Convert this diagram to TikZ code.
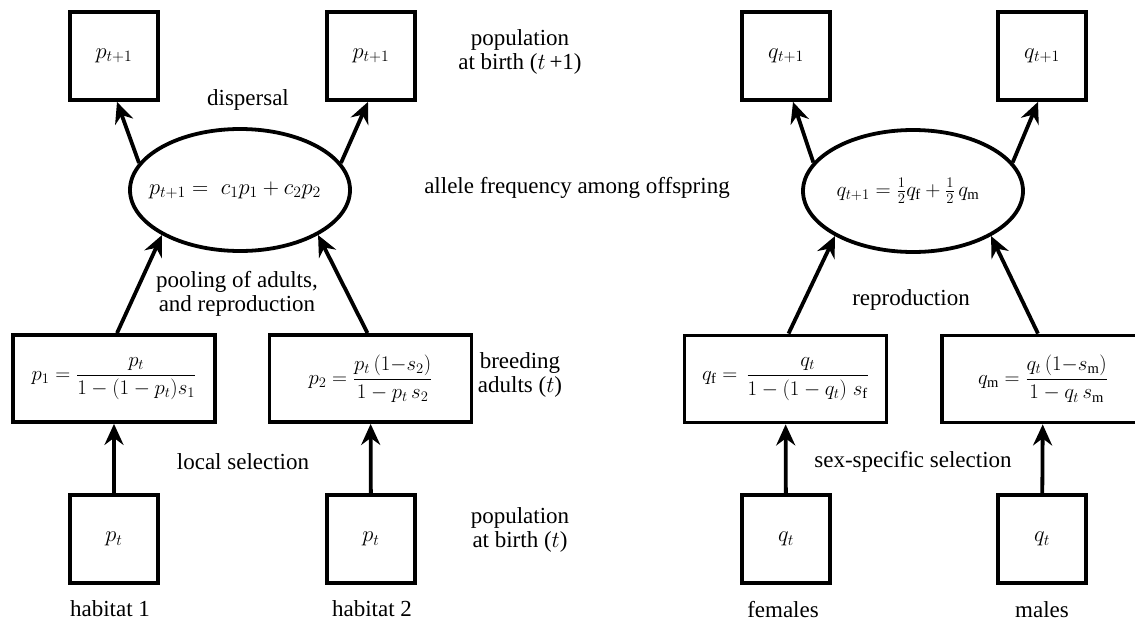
\RequirePackage{fix-cm}
\documentclass[tikz,border=0pt]{standalone}
\usepackage{amsmath}
\usepackage{fontspec}
\setmainfont{Liberation Serif}
\usetikzlibrary{arrows.meta,shapes.geometric}
\begin{document}
\begin{tikzpicture}[x=1pt,y=-1pt,
  every node/.style={font=\fontsize{23}{24.5}\selectfont},
  sq/.style={draw, line width=3.8pt, minimum width=88pt, minimum height=88pt, inner sep=0pt, font=\fontsize{22.5}{25}\selectfont},
  wide/.style={draw, line width=3.8pt, minimum width=202pt, minimum height=87pt, inner sep=0pt, font=\fontsize{20.8}{25}\selectfont},
  ell/.style={draw, ellipse, line width=3.8pt, minimum width=220pt, minimum height=122pt, inner sep=0pt, font=\fontsize{22.5}{25}\selectfont},
  arr/.style={line width=3.8pt, -{Stealth[length=21pt,width=19pt,inset=7pt]}},
  lbl/.style={align=center, inner sep=0pt}]
\useasboundingbox (0,0) rectangle (1135,627);
\clip (0,0) rectangle (1135,627);
% left half
\node[sq] (tl1) at (114,56) {$p_{t+1}$};
\node[sq] (tl2) at (371,56) {$p_{t+1}$};
\node[ell] (el) at (240,190) {\makebox[0pt]{\hspace*{-10pt}$p_{t+1} =\; c_1p_1 + c_2p_2$}};
\node[wide] (ml1) at (114,378.5) {$p_1 = \dfrac{p_t}{1-(1-p_t)s_1}$};
\node[wide] (ml2) at (370.5,378.5) {$p_2 = \dfrac{p_t\,(1{-}s_2)}{1-p_t\,s_2}$};
\node[sq] (bl1) at (114,539) {$p_t$};
\node[sq] (bl2) at (371,539) {$p_t$};
% right half
\node[sq] (tr1) at (786,56) {$q_{t+1}$};
\node[sq] (tr2) at (1042,56) {$q_{t+1}$};
\node[ell, font=\fontsize{21}{25}\selectfont] (er) at (913,191) {\makebox[0pt]{\hspace*{-10pt}$q_{t+1} = \tfrac{1}{2}q_{\mathrm{f}} + \tfrac{1}{2}\,q_{\mathrm{m}}$}};
\node[wide] (mr1) at (785.5,379) {$q_{\mathrm{f}} =\, \dfrac{q_t}{1-(1-q_t)\;s_{\mathrm{f}}}$};
\node[wide] (mr2) at (1043,379) {$q_{\mathrm{m}} = \dfrac{q_t\,(1{-}s_{\mathrm{m}})}{1-q_t\,s_{\mathrm{m}}}$};
\node[sq] (br1) at (786,539) {$q_t$};
\node[sq] (br2) at (1042,539) {$q_t$};
% arrows
\draw[arr] (bl1) -- (ml1);
\draw[arr] (bl2) -- (ml2);
\draw[arr] ([xshift=3pt]ml1.north) -- (el.210);
\draw[arr] ([xshift=-3pt]ml2.north) -- (el.330);
\draw[arr] (el.165) -- ([xshift=3pt]tl1.south);
\draw[arr] (el.15) -- ([xshift=-3pt]tl2.south);
\draw[arr] (br1) -- (mr1);
\draw[arr] (br2) -- (mr2);
\draw[arr] ([xshift=3pt]mr1.north) -- (er.210);
\draw[arr] ([xshift=-5pt]mr2.north) -- (er.330);
\draw[arr] (er.164) -- ([xshift=7pt]tr1.south);
\draw[arr] (er.16) -- ([xshift=-4pt]tr2.south);
% labels
\node[lbl] (dis) at (248,100) {dispersal};
\node[lbl] (pool) at (237,294) {pooling of adults,\\and reproduction};
\node[lbl] (loc) at (243,462) {local selection};
\node[lbl] (h1) at (110,609) {habitat 1};
\node[lbl] (h2) at (372,609) {habitat 2};
\node[lbl] (pop1) at (520,52) {population\\at birth ($t$\,+1)};
\node[lbl] (allele) at (577,188) {allele frequency among offspring};
\node[lbl] (breed) at (520,375) {breeding\\adults ($t$)};
\node[lbl] (pop0) at (520,530) {population\\at birth ($t$)};
\node[lbl] (rep) at (911,300) {reproduction};
\node[lbl] (sex) at (913,462) {sex-specific selection};
\node[lbl] (fem) at (783,610) {females};
\node[lbl] (mal) at (1042,610) {males};
\end{tikzpicture}
\end{document}
